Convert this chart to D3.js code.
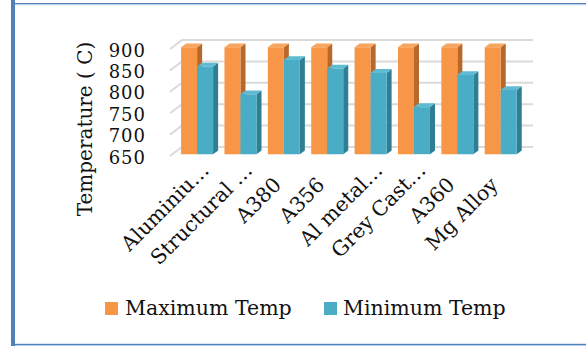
<!DOCTYPE html>
<html>
<head>
<meta charset="utf-8">
<script src="https://cdn.jsdelivr.net/npm/d3@7"></script>
<style>
  html, body { margin: 0; padding: 0; background: #ffffff; }
  svg { display: block; }
  text { font-family: "DejaVu Serif", serif; fill: #111111; }
</style>
</head>
<body>
<svg id="chart" width="586" height="346"></svg>
<script>
// Casting temperature ranges per alloy
const categories = ["Aluminiu…", "Structural …", "A380", "A356", "Al metal…", "Grey Cast…", "A360", "Mg Alloy"];
const seriesNames = ["Maximum Temp", "Minimum Temp"];
const maxTemp = [900, 900, 900, 900, 900, 900, 900, 900];
const minTemp = [855, 790, 870, 850, 840, 760, 835, 800];
const yTicks = [650, 700, 750, 800, 850, 900];
const yTitle = "Temperature ( C)";

const palette = {
  "Maximum Temp": { front: "#f79646", top: "#f6a65f", side: "#b7692c" },
  "Minimum Temp": { front: "#4bacc6", top: "#5fbbd2", side: "#2f7f94" }
};

const svg = d3.select("#chart");

// Outer frame
svg.append("rect").attr("x", 11).attr("y", 0).attr("width", 4).attr("height", 346).attr("fill", "#4f81bd");
svg.append("rect").attr("x", 11).attr("y", 3).attr("width", 575).attr("height", 1.2).attr("fill", "#4f81bd");
svg.append("rect").attr("x", 15).attr("y", 4.2).attr("width", 571).attr("height", 1).attr("fill", "#b8cce4");
svg.append("rect").attr("x", 11).attr("y", 343.8).attr("width", 575).attr("height", 1.6).attr("fill", "#4f81bd");

// 3D projection: front plane value scale plus a depth offset
const y = d3.scaleLinear().domain([650, 900]).range([156, 49]);
const DX = 12, DY = 9;            // depth vector of the plot box (front -> back)
const Z0 = 0.2, Z1 = 0.62;        // depth slot occupied by the columns
const wallLeft = 170, wallRight = 521;
const proj = (px, v, z) => [px + z * DX, y(v) - z * DY];

const x0 = d3.scaleBand().domain(categories).range([173, 520]).padding(0);
const barW = 16;
const x1 = d3.scaleBand().domain(seriesNames)
  .range([(x0.bandwidth() - 2 * barW) / 2, (x0.bandwidth() + 2 * barW) / 2]);

// Gridlines on side wall and back wall
const grid = svg.append("g");
yTicks.forEach(v => {
  const a = proj(wallLeft, v, 0), b = proj(wallLeft, v, 1), c = proj(wallRight, v, 1);
  grid.append("polyline")
    .attr("points", [a, b, c].map(p => p.join(",")).join(" "))
    .attr("fill", "none").attr("stroke", "#dadada").attr("stroke-width", 2);
});

// Y tick labels
svg.append("g").selectAll("text").data(yTicks).join("text")
  .attr("x", 146).attr("y", d => y(d) + 7.5)
  .attr("text-anchor", "end").attr("font-size", 18).attr("letter-spacing", 1)
  .text(d => d);

// Y axis title
svg.append("text")
  .attr("transform", "translate(92,129) rotate(-90)")
  .attr("text-anchor", "middle").attr("font-size", 20)
  .text(yTitle);

// Columns
const rows = categories.map((c, i) => ({ cat: c, values: [
  { s: seriesNames[0], v: maxTemp[i] },
  { s: seriesNames[1], v: minTemp[i] }
]}));
const base = y.domain()[0];
const pts = arr => arr.map(p => p.join(",")).join(" ");

rows.forEach(r => {
  r.values.forEach(d => {
    const xl = x0(r.cat) + x1(d.s), xr = xl + x1.bandwidth();
    const col = palette[d.s];
    const g = svg.append("g");
    // side face
    g.append("polygon").attr("fill", col.side).attr("points", pts([
      proj(xr, base, Z0), proj(xr, d.v, Z0), proj(xr, d.v, Z1), proj(xr, base, Z1)]));
    // top face
    g.append("polygon").attr("fill", col.top).attr("points", pts([
      proj(xl, d.v, Z0), proj(xr, d.v, Z0), proj(xr, d.v, Z1), proj(xl, d.v, Z1)]));
    // front face
    g.append("polygon").attr("fill", col.front).attr("points", pts([
      proj(xl, base, Z0), proj(xr, base, Z0), proj(xr, d.v, Z0), proj(xl, d.v, Z0)]));
  });
});

// Category labels, rotated; a trailing ellipsis hangs past the anchor
const labels = svg.append("g");
categories.forEach(c => {
  const cx = x0(c) + x0.bandwidth() / 2;
  const t = labels.append("text")
    .attr("transform", `translate(${cx + 1},186) rotate(-45)`)
    .attr("text-anchor", "end").attr("font-size", 20.5)
    .text(c);
  if (c.endsWith("…")) {
    const n = c.length;
    const ell = t.node().getSubStringLength(n - 1, 1);
    t.attr("x", ell);
  }
});

// Legend
const legend = svg.append("g");
const legendItems = [
  { s: seriesNames[0], sx: 105, tx: 125 },
  { s: seriesNames[1], sx: 324, tx: 343 }
];
legendItems.forEach(it => {
  legend.append("rect").attr("x", it.sx).attr("y", 302).attr("width", 13).attr("height", 13)
    .attr("fill", palette[it.s].front);
  legend.append("text").attr("x", it.tx).attr("y", 315).attr("font-size", 20.5).text(it.s);
});
</script>
</body>
</html>
